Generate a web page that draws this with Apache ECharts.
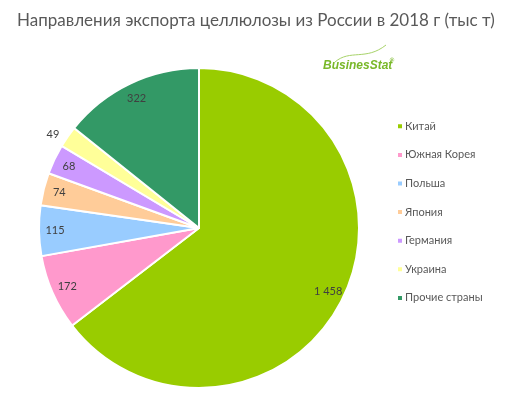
<!DOCTYPE html>
<html lang="ru">
  <head>
    <meta charset="UTF-8" />
    <title>Экспорт целлюлозы</title>
    <style>
      * {
        margin: 0;
        padding: 0;
      }
      html,
      body {
        width: 100%;
        height: 100%;
        background: #fff;
      }
      #chart {
        width: 507px;
        height: 399px;
      }
    </style>
    <script src="https://cdn.jsdelivr.net/npm/echarts@6/dist/echarts.min.js"></script>
  </head>
  <body>
    <div id="chart"></div>
    <script>
      // данные
      var countries = ["Китай", "Южная Корея", "Польша", "Япония", "Германия", "Украина", "Прочие страны"];
      var volumes = [1458, 172, 115, 74, 68, 49, 322];
      var colors = ["#99cc00", "#ff99cc", "#99ccff", "#ffcc99", "#cc99ff", "#ffff99", "#339966"];

      var fmt = function (v) {
        return String(v).replace(/(\d)(?=(\d{3})+$)/g, "$1 ");
      };

      var pieData = countries.map(function (name, i) {
        return { name: name, value: volumes[i], itemStyle: { color: colors[i] } };
      });

      // подписи: отдельное прозрачное кольцо, чтобы числа стояли ближе к краю
      var labelData = countries.map(function (name, i) {
        var item = { name: name, value: volumes[i] };
        if (volumes[i] < 60) {
          item.label = { position: "outside", overflow: "none", alignTo: "none" };
          item.labelLine = { show: false, length: 4, length2: 0 };
        }
        return item;
      });

      var option = {
        backgroundColor: "#ffffff",
        animation: false,
        title: {
          text: "Направления экспорта целлюлозы из России в 2018 г (тыс т)",
          left: 12,
          top: 7,
          textStyle: {
            fontFamily: "Lato",
            fontSize: 17,
            fontWeight: "normal",
            color: "#595959",
          },
        },
        legend: {
          orient: "vertical",
          left: 391,
          top: 114,
          itemWidth: 6,
          itemHeight: 6,
          itemGap: 14,
          icon: "rect",
          data: countries,
          textStyle: {
            fontFamily: "Lato",
            fontSize: 11,
            color: "#595959",
            lineHeight: 14.6,
            padding: [0, 0, 0, -3],
          },
        },
        graphic: [
          {
            // логотип
            type: "text",
            left: 323,
            top: 60,
            style: {
              text: "BusinesStat",
              font: "italic bold 12px 'Liberation Sans'",
              fill: "#79b829",
            },
          },
          {
            type: "text",
            left: 389,
            top: 57,
            style: { text: "®", font: "6px 'DejaVu Sans'", fill: "#79b829" },
          },
          {
            type: "bezierCurve",
            shape: { x1: 335, y1: 62, x2: 386, y2: 45, cpx1: 350, cpy1: 49, cpx2: 366, cpy2: 61 },
            style: { stroke: "#a8d36a", lineWidth: 1, fill: null },
          },
        ],
        series: [
          {
            type: "pie",
            center: [199, 228],
            radius: [0, 160],
            startAngle: 90,
            clockwise: true,
            silent: true,
            label: { show: false },
            labelLine: { show: false },
            itemStyle: { borderColor: "#ffffff", borderWidth: 2 },
            data: pieData,
          },
          {
            type: "pie",
            center: [199, 228],
            radius: [122, 160],
            startAngle: 90,
            clockwise: true,
            silent: true,
            itemStyle: { color: "rgba(0,0,0,0)" },
            label: {
              show: true,
              position: "inside",
              fontFamily: "Lato",
              fontSize: 11,
              color: "#404040",
              formatter: function (p) {
                return fmt(p.value);
              },
            },
            labelLine: { show: false },
            data: labelData,
          },
        ],
      };

      var myChart = echarts.init(document.getElementById("chart"));
      myChart.setOption(option);
    </script>
  </body>
</html>
